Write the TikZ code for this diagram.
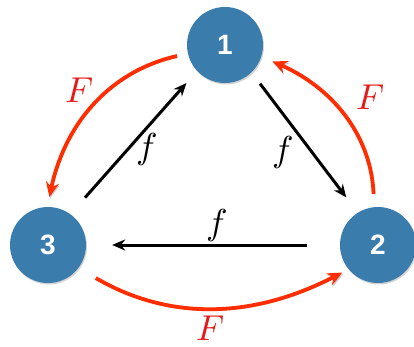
\documentclass[tikz,border=0pt]{standalone}
\usepackage{fontspec}
\usepackage{unicode-math}
\setmathfont{Latin Modern Math}
\newfontfamily\numfont{Liberation Sans}
\usetikzlibrary{arrows.meta,shadows,bending}
\definecolor{nodeblue}{RGB}{58,125,172}
\definecolor{arrowred}{RGB}{255,45,0}
\definecolor{labelred}{RGB}{230,25,25}
\begin{document}
\begin{tikzpicture}[x=1pt,y=-1pt,
  vertex/.style={circle,fill=nodeblue,minimum size=76pt,inner sep=0pt,
    text=white,font=\numfont\fontsize{28}{30}\selectfont\bfseries,
    drop shadow={opacity=0.35,shadow xshift=1pt,shadow yshift=-1.5pt}},
  blackarrow/.style={draw=black,line width=3pt,-{Stealth[length=13pt,width=11pt]}},
  redarrow/.style={draw=arrowred,line width=3.8pt,-{Stealth[length=15pt,width=13pt,bend]},
    preaction={draw=black,opacity=0.2,transform canvas={shift={(0.8pt,-1.6pt)}}}},
  smallf/.style={inner sep=0pt,font=\fontsize{36}{40}\selectfont},
  bigF/.style={inner sep=0pt,text=labelred,font=\fontsize{36}{40}\selectfont}]
\useasboundingbox (0,0) rectangle (414,347);
\node[vertex] (n1) at (225,45) {1};
\node[vertex] (n2) at (378,245) {2};
\node[vertex] (n3) at (48,245) {3};
% black arrows
\draw[blackarrow,shorten <=22pt,shorten >=16pt] (n3.54) -- (n1.223);
\draw[blackarrow,shorten <=14pt,shorten >=19pt] (n1.314) -- (n2.122);
\draw[blackarrow,shorten <=33pt,shorten >=26pt] (n2.180) -- (n3.0);
% red arrows
\draw[redarrow,shorten <=11pt,shorten >=10pt] (n1.193) to[bend right=35] (n3.90);
\draw[redarrow,shorten <=13pt,shorten >=12pt] (n2.96) to[bend right=35] (n1.341);
\draw[redarrow,shorten <=20pt,shorten >=7pt] (n3.323) to[bend right=30] (n2.219);
% labels
\node[smallf] (f31) at (147,150) {$f$};
\node[smallf] (f12) at (283,153) {$f$};
\node[smallf] (f23) at (217,225) {$f$};
\node[bigF] (F13) at (79,90) {$F$};
\node[bigF] (F21) at (370,97) {$F$};
\node[bigF] (F32) at (210,328) {$F$};
\end{tikzpicture}
\end{document}
